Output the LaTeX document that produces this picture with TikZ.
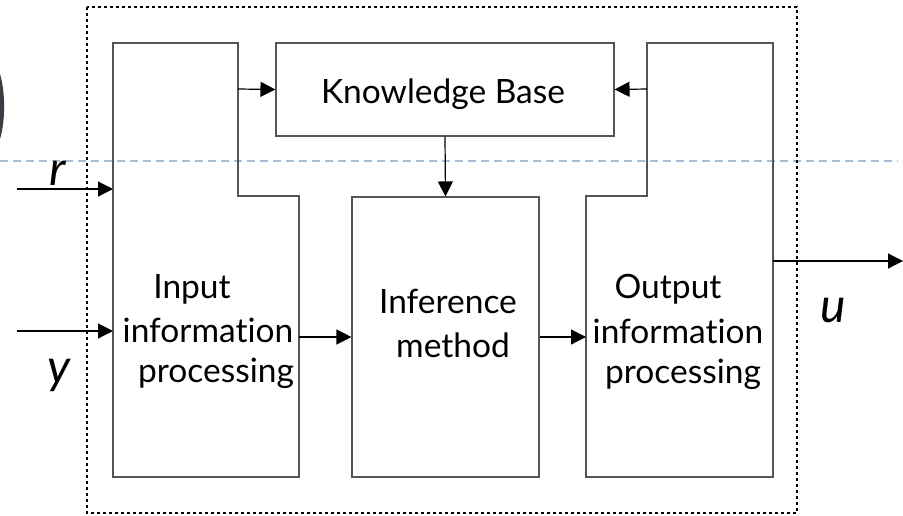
\documentclass[tikz,border=0pt]{standalone}
\usepackage{fontspec}
\setmainfont[Ligatures=NoCommon]{Lato}
\usetikzlibrary{arrows.meta}
\definecolor{boxline}{HTML}{555555}
\definecolor{guide}{HTML}{A9BDD2}
\definecolor{glyph}{HTML}{3C3C46}
\tikzset{
  blk/.style={draw=boxline, line width=1.1pt},
  flow/.style={draw=black, line width=1.2pt, -{Triangle[length=15pt,width=15pt]}},
  lbl/.style={anchor=base, inner sep=0pt, font=\fontsize{33.5}{38}\selectfont},
  sig/.style={anchor=base, inner sep=0pt, font=\fontsize{48}{54}\selectfont\itshape},
}
\begin{document}
\begin{tikzpicture}[x=1pt, y=-1pt]
\useasboundingbox (0,0) rectangle (903,515);
\fill[white] (0,0) rectangle (903,515);

% partial glyph at the left edge
\fill[glyph] (0,74) .. controls (5.5,92) and (5.5,121) .. (0,139) -- cycle;

% horizontal guide line
\draw[guide, line width=1.6pt, dash pattern=on 8pt off 5pt] (0,161) -- (898,161);

% dotted frame of the controller
\draw[black, line width=2.8pt, dash pattern=on 2.6pt off 3.4pt] (87,7) rectangle (797,513);

% blocks
\draw[blk] (113,43) -- (238,43) -- (238,196) -- (299,196) -- (299,477) -- (113,477) -- cycle;
\draw[blk] (647,43) -- (773,43) -- (773,477) -- (586,477) -- (586,196) -- (647,196) -- cycle;
\node[blk, minimum width=338pt, minimum height=93pt, inner sep=0pt] (kb) at (445,89.5) {};
\node[blk, minimum width=187pt, minimum height=280pt, inner sep=0pt] (inf) at (445.5,337) {};

% block texts
\node[lbl] (kbt) at (443,103) {Knowledge Base};
\node[lbl] (inft1) at (448,313) {Inference};
\node[lbl] (inft2) at (453,357) {method};
\node[lbl] (int1) at (192,298) {Input};
\node[lbl] (int2) at (208,342) {information};
\node[lbl] (int3) at (216,382) {processing};
\node[lbl] (outt1) at (668,298) {Output};
\node[lbl] (outt2) at (678,343) {information};
\node[lbl] (outt3) at (683,383) {processing};

% signal labels
\node[sig] (rl) at (58,185) {r};
\node[sig] (yl) at (59,383) {y};
\node[sig] (ul) at (833,322) {u};

% connector ends
\coordinate (rin) at (17,189);
\coordinate (rto) at (113,189);
\coordinate (yin) at (17,331);
\coordinate (yto) at (113,331);
\coordinate (inkb) at (238,89);
\coordinate (outkb) at (647,89);
\coordinate (inout) at (299,337);
\coordinate (outin) at (586,337);
\coordinate (uout) at (773,261);
\coordinate (uend) at (903,261);

% connectors
\draw[flow] (rin) -- (rto);
\draw[flow] (yin) -- (yto);
\draw[flow] (inkb) -- (kb.west);
\draw[flow] (outkb) -- (kb.east);
\draw[flow] (kb.south) -- (inf.north);
\draw[flow] (inout) -- (inf.west);
\draw[flow] (inf.east) -- (outin);
\draw[flow] (uout) -- (uend);
\end{tikzpicture}
\end{document}
